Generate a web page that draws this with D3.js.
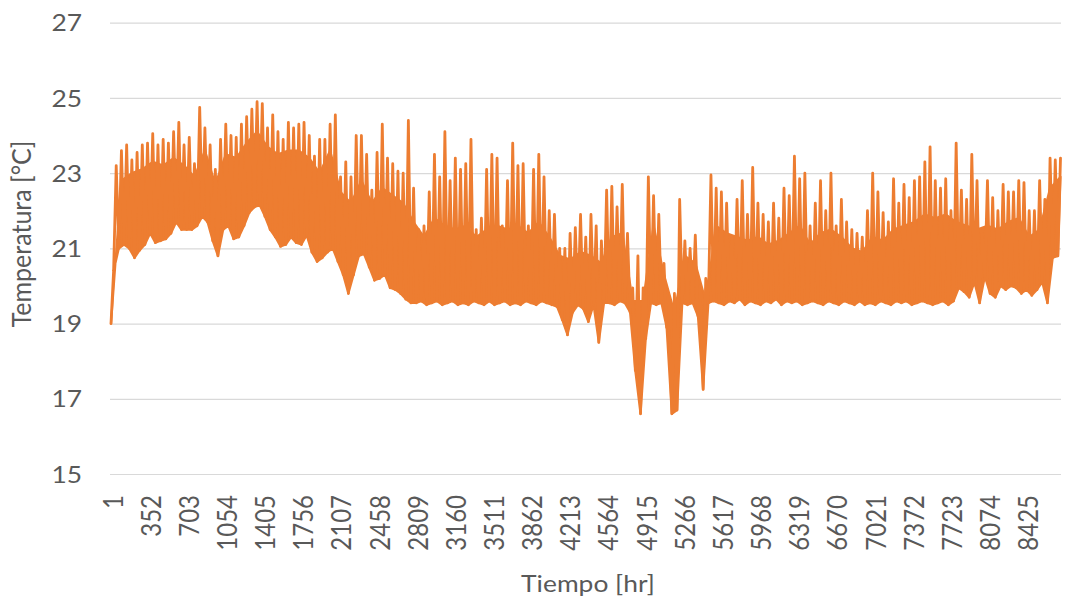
<!DOCTYPE html>
<html><head><meta charset="utf-8">
<script src="https://cdn.jsdelivr.net/npm/d3@7"></script>
<style>
body{margin:0;background:#fff}
text{font-family:Lato,"Open Sans",sans-serif;fill:#595959}
</style>
</head><body>
<svg id="chart" width="1067" height="606"></svg>
<script>
// Upper edge of the hourly trace, read every 48 h (hour 1, 49, 97, ...)
const upperEdge = [19.0, 23.2, 23.6, 23.75, 23.35, 23.55, 23.75, 23.8, 24.05, 23.75,
 23.9, 23.8, 24.1, 24.35, 23.75, 23.95, 23.25, 24.75, 24.2, 23.75,
 23.1, 23.9, 24.3, 24.0, 23.95, 24.3, 24.5, 24.7, 24.9, 24.85,
 24.2, 24.55, 24.1, 23.9, 24.35, 24.2, 24.3, 24.35, 24.0, 23.45,
 23.9, 23.9, 24.3, 24.55, 22.9, 23.3, 22.9, 24.0, 24.0, 23.5,
 22.55, 23.55, 24.3, 23.4, 23.25, 23.05, 23.0, 24.4, 22.6, 21.5,
 21.6, 22.5, 23.5, 22.9, 24.1, 22.8, 23.4, 23.1, 23.25, 23.9,
 21.5, 21.8, 23.1, 23.5, 23.4, 21.6, 22.8, 23.8, 23.2, 23.25,
 21.6, 23.1, 23.5, 22.9, 22.0, 21.9, 21.0, 21.0, 21.4, 21.55,
 21.9, 21.3, 21.9, 21.6, 21.2, 22.55, 22.65, 22.1, 22.7, 21.4,
 19.95, 20.8, 19.95, 22.9, 22.4, 21.9, 20.6, 18.9, 19.8, 22.3,
 21.2, 21.0, 21.35, 19.6, 20.2, 22.95, 22.6, 22.5, 22.2, 21.3,
 22.3, 22.8, 21.9, 23.15, 22.2, 21.9, 21.7, 22.2, 21.8, 22.6,
 22.4, 23.45, 22.85, 23.0, 21.6, 22.2, 22.8, 22.0, 23.0, 21.6,
 22.3, 21.7, 21.5, 21.4, 21.3, 22.0, 23.0, 22.5, 21.95, 21.7,
 22.85, 22.2, 22.7, 22.35, 22.8, 22.9, 23.3, 23.7, 22.8, 22.6,
 22.85, 22.0, 23.8, 22.55, 22.3, 23.5, 22.8, 21.4, 22.8, 22.35,
 22.0, 22.7, 22.5, 22.5, 22.8, 22.75, 22.0, 22.0, 22.8, 22.3,
 23.4, 23.35, 23.4];

// Lower edge of the hourly trace, read every 48 h (hour 25, 73, 121, ...)
const lowerEdge = [20.4, 21.0, 21.1, 21.0, 20.75, 20.95, 21.1, 21.4, 21.15, 21.2,
 21.25, 21.4, 21.7, 21.5, 21.5, 21.5, 21.6, 21.85, 21.7, 21.2,
 20.8, 21.5, 21.6, 21.25, 21.3, 21.6, 21.95, 22.1, 22.15, 21.85,
 21.5, 21.3, 21.05, 21.1, 21.3, 21.15, 21.1, 21.35, 20.9, 20.65,
 20.75, 20.9, 21.0, 20.65, 20.3, 19.8, 20.3, 20.8, 20.85, 20.5,
 20.15, 20.2, 20.3, 19.95, 19.9, 19.8, 19.65, 19.55, 19.55, 19.6,
 19.5, 19.55, 19.6, 19.5, 19.55, 19.6, 19.5, 19.55, 19.5, 19.6,
 19.55, 19.5, 19.6, 19.5, 19.55, 19.6, 19.5, 19.55, 19.5, 19.6,
 19.55, 19.5, 19.6, 19.55, 19.5, 19.45, 19.1, 18.7, 19.3, 19.5,
 19.4, 19.05, 19.5, 18.5, 19.55, 19.55, 19.5, 19.6, 19.55, 19.3,
 17.75, 16.6, 18.6, 19.55, 19.5, 19.55, 18.9, 16.6, 16.7, 19.55,
 19.5, 19.55, 19.2, 17.25, 19.55, 19.6, 19.55, 19.5, 19.6, 19.55,
 19.65, 19.5, 19.6, 19.55, 19.5, 19.6, 19.55, 19.65, 19.5, 19.6,
 19.55, 19.6, 19.5, 19.55, 19.6, 19.55, 19.5, 19.6, 19.55, 19.5,
 19.6, 19.55, 19.5, 19.6, 19.5, 19.55, 19.5, 19.6, 19.55, 19.5,
 19.6, 19.55, 19.6, 19.5, 19.55, 19.6, 19.55, 19.5, 19.55, 19.6,
 19.5, 19.6, 19.95, 19.85, 19.7, 20.1, 19.55, 20.25, 19.8, 19.7,
 20.0, 19.9, 20.0, 19.95, 19.8, 19.9, 19.75, 19.9, 20.1, 19.55,
 20.75, 20.8];

// Level up to which the dense trace looks solid, read every 96 h (hour 1, 97, 193, ...)
const solidTop = [19.0, 22.8, 23.0, 23.1, 23.3, 23.2, 23.4, 23.2, 22.9, 23.6,
 22.7, 23.5, 23.4, 23.8, 24.1, 23.7, 23.5, 23.6, 23.6, 23.4,
 23.0, 23.6, 22.5, 22.2, 22.8, 22.2, 22.6, 22.4, 22.2, 21.7,
 21.3, 21.8, 21.6, 21.5, 21.6, 21.3, 21.5, 21.6, 21.5, 21.6,
 21.4, 21.7, 21.3, 20.8, 20.7, 20.9, 20.8, 20.6, 21.3, 21.4,
 19.6, 19.6, 21.6, 20.3, 19.3, 20.8, 20.6, 19.6, 21.6, 21.4,
 21.3, 21.2, 21.3, 21.1, 21.2, 21.4, 21.6, 21.1, 21.4, 21.5,
 21.3, 21.0, 20.9, 21.3, 21.2, 21.5, 21.6, 21.7, 21.9, 21.8,
 21.9, 21.7, 21.6, 21.5, 21.6, 21.5, 21.7, 21.8, 21.3, 21.5,
 22.6, 22.9];

const yTickValues = [15, 17, 19, 21, 23, 25, 27];
const xTickHours = [1, 352, 703, 1054, 1405, 1756, 2107, 2458, 2809, 3160, 3511, 3862,
  4213, 4564, 4915, 5266, 5617, 5968, 6319, 6670, 7021, 7372, 7723, 8074, 8425];
const xTitle = "Tiempo [hr]";
const yTitle = "Temperatura [°C]";

// readings as points; the trace alternates between upper and lower readings
const upperPts = upperEdge.map((t, k) => ({hour: 1 + 48 * k, t: t}));
const lowerPts = lowerEdge.map((t, k) => ({hour: 25 + 48 * k, t: t}));
const solidPts = solidTop.map((t, j) => ({hour: 1 + 96 * j, t: t}));
const series = [];
upperPts.forEach((p, k) => { series.push(p); if (k < lowerPts.length) series.push(lowerPts[k]); });
// solid body of the trace: solid level forward, lower edge back
const body = solidPts.concat(lowerPts.slice().reverse());

const svg = d3.select("#chart");
const x = d3.scaleLinear().domain([1, 8760]).range([111, 1063]);
const y = d3.scaleLinear().domain([15, 27]).range([474, 22.7]);
const gridLeft = 110, gridRight = 1061;
const sx = 1.1;
const orange = "#ED7D31";

// gridlines
svg.append("g")
  .attr("transform", `translate(${gridLeft},0)`)
  .call(d3.axisLeft(y).tickValues(yTickValues).tickSize(-(gridRight - gridLeft)).tickFormat(""))
  .call(g => g.select(".domain").remove())
  .call(g => g.selectAll("line").attr("stroke", "#d9d9d9").attr("stroke-width", 1.2));

// y tick labels
svg.append("g").selectAll("text").data(yTickValues).join("text")
  .attr("transform", d => `translate(82,${y(d)}) scale(${sx},1)`)
  .attr("text-anchor", "end").attr("dy", "0.36em")
  .style("font-size", "24px")
  .text(d => d);

// x tick labels (rotated)
svg.append("g").selectAll("text").data(xTickHours).join("text")
  .attr("transform", d => `translate(${x(d) + 2},495) scale(${sx},1) rotate(-90)`)
  .attr("text-anchor", "end").attr("dy", "0.36em")
  .style("font-size", "24px")
  .text(d => d);

// axis titles
svg.append("text")
  .attr("transform", `translate(588,592) scale(${sx},1)`)
  .attr("text-anchor", "middle")
  .style("font-size", "24px")
  .text(xTitle);
svg.append("text")
  .attr("transform", `translate(31,234) scale(${sx},1) rotate(-90)`)
  .attr("text-anchor", "middle")
  .style("font-size", "25px")
  .text(yTitle);

const line = d3.line().x(d => x(d.hour)).y(d => y(d.t));

// solid body
svg.append("path")
  .datum(body)
  .attr("d", line)
  .attr("fill", orange)
  .attr("stroke", orange)
  .attr("stroke-width", 2.2)
  .attr("stroke-linejoin", "round");

// the dense hourly trace
svg.append("path")
  .datum(series)
  .attr("d", line)
  .attr("fill", "none")
  .attr("stroke", orange)
  .attr("stroke-width", 2.8)
  .attr("stroke-linejoin", "round")
  .attr("stroke-linecap", "round");
</script>
</body></html>
